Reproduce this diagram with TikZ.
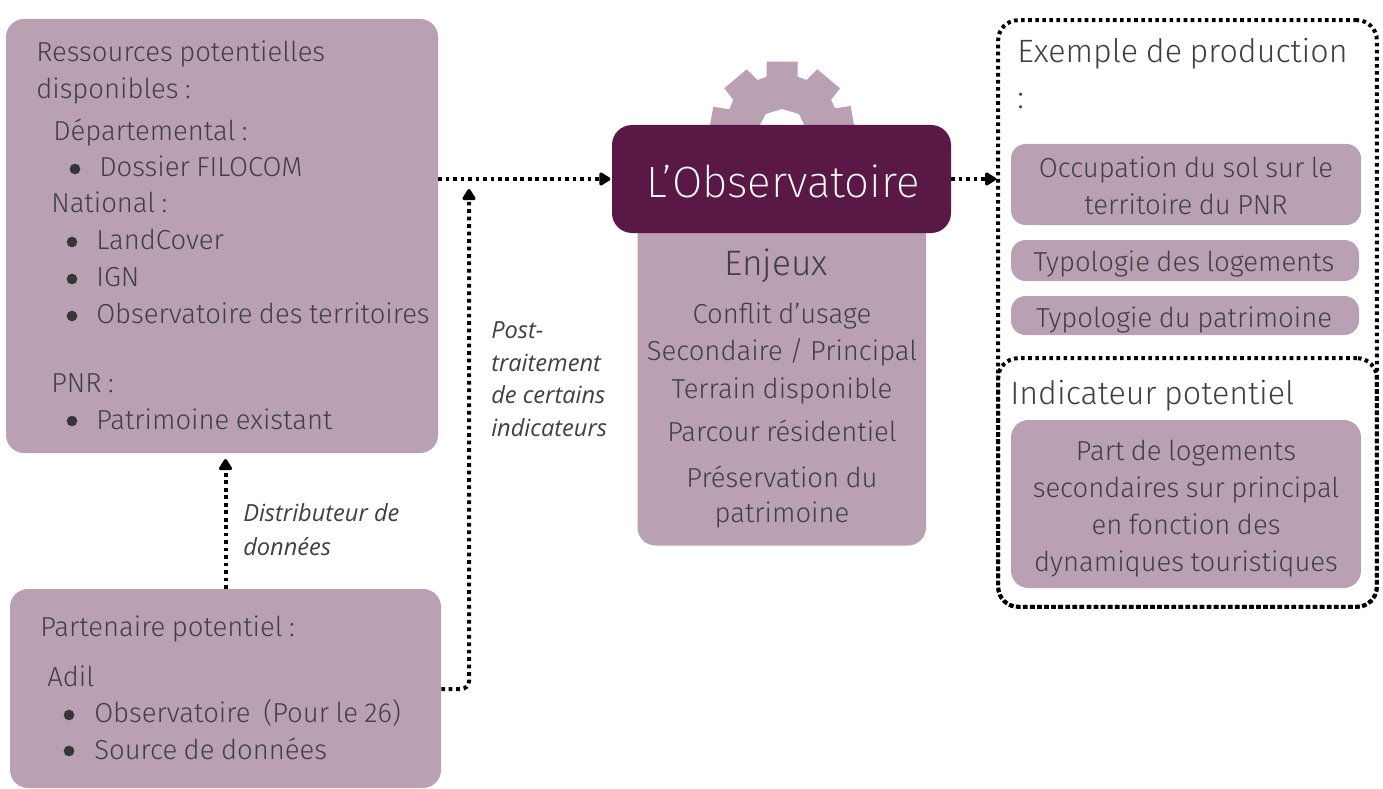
\documentclass[tikz,border=0pt]{standalone}
\usepackage{fontspec}
\setmainfont[WordSpace=0.85]{Fira Sans Light}
\newfontfamily\labfont{Open Sans}
\newfontfamily\thinfont{Fira Sans ExtraLight}
\usetikzlibrary{arrows.meta}
\definecolor{mauve}{HTML}{B9A0B3}
\definecolor{plum}{HTML}{5A1846}
\definecolor{ink}{HTML}{404040}
\newcommand{\fs}[1]{\fontsize{#1}{#1}\selectfont}
\tikzset{
  x=0.75pt,y=-0.75pt,
  panel/.style={fill=mauve,draw=none,rounded corners=13.5pt,inner sep=0pt},
  pill/.style={fill=mauve,draw=none,rounded corners=11pt,inner sep=0pt},
  dotbox/.style={draw=black,line width=3pt,rounded corners=15pt,dash pattern=on 2.7pt off 2.6pt,inner sep=0pt},
  txt/.style={text=ink,anchor=base west,inner sep=0pt,yshift=-0.9pt,font=\fs{20.6}},
  ctr/.style={text=ink,anchor=base,inner sep=0pt,yshift=-0.9pt,font=\fs{20.6}},
  big/.style={text=ink,anchor=base west,inner sep=0pt,yshift=-1.1pt,font=\fs{24.2}},
  lab/.style={text=ink,anchor=base west,inner sep=0pt,yshift=-0.7pt,font=\labfont\itshape\fs{17.7}},
  bul/.style={circle,fill=ink!85!black,draw=none,minimum size=8pt,inner sep=0pt},
  link/.style={draw=black,line width=3pt,dash pattern=on 2.8pt off 2.8pt,rounded corners=6pt,
    -{Triangle[length=9.5pt,width=11pt,round]}},
}
\begin{document}
\begin{tikzpicture}
\useasboundingbox (0,0) rectangle (1383,788);
% gear
\fill[mauve,even odd rule]
  (710,140) -- (710,125) -- (713.3,106.7) -- (729.3,109.3) -- (733.3,100) -- (724.3,88.3) -- (746.7,69.3) -- (757.7,80) -- (766.7,76.7) -- (766.7,61.7) -- (797.7,61.7) -- (797.7,76.7) -- (806.7,80) -- (817.3,69.3) -- (840,88.3) -- (831,100) -- (835,108.3) -- (850.7,106) -- (854,125) -- (854,140) -- cycle
  (760,140) -- (760,124.7) -- (765.7,114) -- (782,109) -- (799,114) -- (804,124.7) -- (804,140) -- cycle;
% panels
\node[panel,minimum width=324pt,minimum height=325.5pt] (res) at (222,236) {};
\node[panel,minimum width=323.25pt,minimum height=149.25pt] (par) at (225.5,688.5) {};
\path[fill=mauve,rounded corners=13.5pt] (637.5,190) rectangle (926,545.5);
\node[panel,fill=plum,rounded corners=15pt,minimum width=254.25pt,minimum height=81pt] (obs) at (781.5,179) {};
\node[anchor=base,inner sep=0pt,text=white,font=\thinfont\fs{32.9}] (obst) at (783,197) {L’Observatoire};
\node[pill,minimum width=262.5pt,minimum height=60.75pt] (p1) at (1186,184.5) {};
\node[pill,minimum width=261pt,minimum height=30.75pt,rounded corners=11pt] (p2) at (1185,260.5) {};
\node[pill,minimum width=261pt,minimum height=29.25pt,rounded corners=11pt] (p3) at (1185,315.5) {};
\node[pill,minimum width=262.5pt,minimum height=126pt,rounded corners=13pt] (p4) at (1186,504) {};
% dotted frames
\node[dotbox,minimum width=284pt,minimum height=440pt] (outer) at (1187.5,313.5) {};
\node[dotbox,minimum width=284pt,minimum height=186.5pt] (inner) at (1187.5,482.5) {};
% left text
\node[txt] (t1) at (36,60) {Ressources potentielles};
\node[txt] (t2) at (36,97) {disponibles :};
\node[txt] (t3) at (53,139) {Départemental :};
\node[bul] (b1) at (75,169) {};
\node[txt] (t4) at (99,175) {Dossier FILOCOM};
\node[txt] (t5) at (51,211) {National :};
\node[bul] (b2) at (72,242) {};
\node[txt] (t6) at (96,248) {LandCover};
\node[bul] (b3) at (72,279) {};
\node[txt] (t7) at (96,285) {IGN};
\node[bul] (b4) at (72,316) {};
\node[txt] (t8) at (96,322) {Observatoire des territoires};
\node[txt] (t9) at (51,391) {PNR :};
\node[bul] (b5) at (72,421) {};
\node[txt] (t10) at (96,428) {Patrimoine existant};
% partner text
\node[txt] (u1) at (40,635) {Partenaire potentiel :};
\node[txt] (u2) at (47,685) {Adil};
\node[bul] (b6) at (69,715) {};
\node[txt] (u3) at (94,721) {Observatoire\ \ (Pour le 26)};
\node[bul] (b7) at (69,751) {};
\node[txt] (u4) at (94,758) {Source de données};
% centre text
\node[ctr,font=\fs{26.5}] (e0) at (776,274) {Enjeux};
\node[ctr] (e1) at (782,322) {Conflit d’usage};
\node[ctr] (e2) at (782,359) {Secondaire / Principal};
\node[ctr] (e3) at (782,397) {Terrain disponible};
\node[ctr] (e4) at (782,440) {Parcour résidentiel};
\node[ctr] (e5) at (782,486) {Préservation du};
\node[ctr] (e6) at (782,521) {patrimoine};
% right text
\node[big] (r0) at (1017,61) {Exemple de production};
\node[big] (r1) at (1017,107) {:};
\node[ctr] (r2) at (1186,176) {Occupation du sol sur le};
\node[ctr] (r3) at (1186,213) {territoire du PNR};
\node[ctr] (r4) at (1184,270) {Typologie des logements};
\node[ctr] (r5) at (1184,326) {Typologie du patrimoine};
\node[big] (r6) at (1010,403) {Indicateur potentiel};
\node[ctr] (r7) at (1186,459) {Part de logements};
\node[ctr] (r8) at (1186,496) {secondaires sur principal};
\node[ctr] (r9) at (1186,533) {en fonction des};
\node[ctr] (r10) at (1186,570) {dynamiques touristiques};
% labels
\node[lab] (l1) at (491,338) {Post-};
\node[lab] (l2) at (491,371) {traitement};
\node[lab] (l3) at (491,403) {de certains};
\node[lab] (l4) at (491,436) {indicateurs};
\node[lab] (l5) at (243,521) {Distributeur de};
\node[lab] (l6) at (243,555) {données};
% connectors
\coordinate (c1) at (469,189);
\coordinate (c2) at (225.5,459);
\coordinate (c3) at (469,689);
\draw[link] (res.east |- obs.west) -- ([xshift=-1pt]obs.west);
\draw[link] (obs.east) -- (outer.west |- obs.east);
\draw[link] (par.north) -- (c2);
\draw[link] (par.east |- c3) -- (c3) -- (c1);
\end{tikzpicture}
\end{document}
